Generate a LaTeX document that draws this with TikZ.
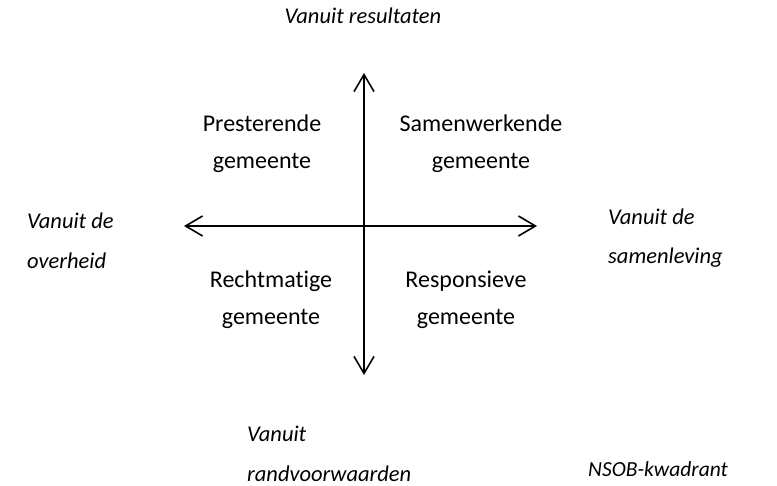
\documentclass[tikz,border=0pt]{standalone}
\usepackage{fontspec}
\setmainfont[Ligatures=NoCommon]{Carlito}
\usetikzlibrary{arrows.meta}
\tikzset{
  axis/.style={line width=1.6pt, {Straight Barb[length=17pt,width=20pt,line width=1.6pt]}-{Straight Barb[length=17pt,width=20pt,line width=1.6pt]}},
  quad/.style={inner sep=0pt, align=center, font=\fontsize{24}{37}\selectfont},
  side/.style={inner sep=0pt, align=left, anchor=west, font=\fontsize{22.5}{39.5}\selectfont\itshape},
  small/.style={inner sep=0pt, anchor=west, font=\fontsize{21.5}{24}\selectfont\itshape}
}
\begin{document}
\begin{tikzpicture}[x=1pt,y=-1pt]
\useasboundingbox (0,0) rectangle (777,486);
\coordinate (top) at (364,73);
\coordinate (bot) at (364,375);
\coordinate (lft) at (184,226);
\coordinate (rgt) at (537,226);
\draw[axis] (bot) -- (top);
\draw[axis] (lft) -- (rgt);
\node[quad] (pg) at (262,144) {Presterende\\gemeente};
\node[quad] (sg) at (481,144) {Samenwerkende\\gemeente};
\node[quad] (rg) at (271,300) {Rechtmatige\\gemeente};
\node[quad] (rsg) at (466,300) {Responsieve\\gemeente};
\node[side, anchor=center] (vr) at (363,16) {Vanuit resultaten};
\node[side] (vo) at (27,241) {Vanuit de\\overheid};
\node[side] (vs) at (608,238) {Vanuit de\\samenleving};
\node[side] (vrw) at (247,454) {Vanuit\\randvoorwaarden};
\node[small] (ns) at (588,469) {NSOB-kwadrant};
\end{tikzpicture}
\end{document}
